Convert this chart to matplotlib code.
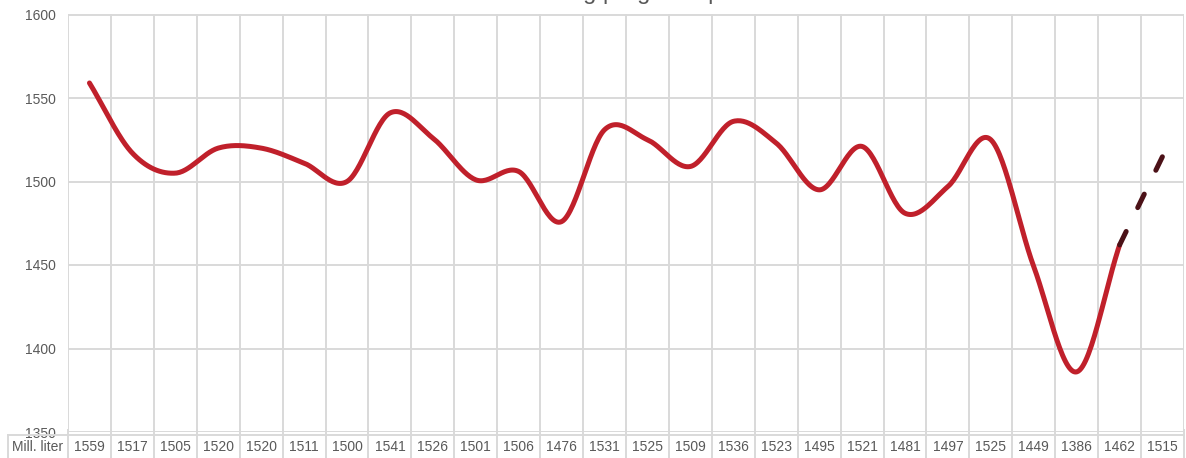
import numpy as np
import matplotlib
matplotlib.use("Agg")
import matplotlib.pyplot as plt
from matplotlib.transforms import blended_transform_factory

# ---- data ----
title = "Forbruk og prognose per år"
row_label = "Mill. liter"
values = [1559, 1517, 1505, 1520, 1520, 1511, 1500, 1541, 1526, 1501, 1506,
          1476, 1531, 1525, 1509, 1536, 1523, 1495, 1521, 1481, 1497, 1525,
          1449, 1386, 1462, 1515]
n_actual = 25          # first 25 values are actual, last segment is forecast
y_ticks = [1350, 1400, 1450, 1500, 1550, 1600]

plt.rcParams['font.family'] = ['Liberation Sans', 'DejaVu Sans']

W, H = 1186, 458
fig = plt.figure(figsize=(W / 100, H / 100), dpi=100)
left_px, right_px, top_px, bot_px = 68, 1184, 14.5, 432
ax = fig.add_axes([left_px / W, (H - bot_px) / H,
                   (right_px - left_px) / W, (bot_px - top_px) / H])

n = len(values)
x = np.arange(n)
ax.set_xlim(-0.5, n - 0.5)
ax.set_ylim(y_ticks[0], y_ticks[-1])

grid_c = '#D9D9D9'
text_c = '#595959'
ax.set_yticks(y_ticks)
ax.set_yticklabels([str(t) for t in y_ticks], color=text_c, fontsize=10)
ax.tick_params(axis='y', length=0, pad=9)
ax.set_xticks([])
for s in ax.spines.values():
    s.set_visible(False)
for t in y_ticks:
    ax.axhline(t, color=grid_c, lw=1.4, zorder=0)
for b in np.arange(n + 1) - 0.5:
    ax.axvline(b, color=grid_c, lw=1.4, zorder=0)


def catmull_rom(xs, ys, steps=30):
    xs = np.asarray(xs, float)
    ys = np.asarray(ys, float)
    px = np.concatenate([[2 * xs[0] - xs[1]], xs, [2 * xs[-1] - xs[-2]]])
    py = np.concatenate([[2 * ys[0] - ys[1]], ys, [2 * ys[-1] - ys[-2]]])
    out_x, out_y = [], []
    for i in range(1, len(px) - 2):
        t = np.linspace(0, 1, steps, endpoint=(i == len(px) - 3))
        p0, p1, p2, p3 = py[i - 1], py[i], py[i + 1], py[i + 2]
        q0, q1, q2, q3 = px[i - 1], px[i], px[i + 1], px[i + 2]
        f = lambda a0, a1, a2, a3: 0.5 * ((2 * a1) + (-a0 + a2) * t +
                                          (2 * a0 - 5 * a1 + 4 * a2 - a3) * t ** 2 +
                                          (-a0 + 3 * a1 - 3 * a2 + a3) * t ** 3)
        out_x.append(f(q0, q1, q2, q3))
        out_y.append(f(p0, p1, p2, p3))
    return np.concatenate(out_x), np.concatenate(out_y)


sx, sy = catmull_rom(x[:n_actual], values[:n_actual])
ax.plot(sx, sy, color='#C0202B', lw=3.6, solid_capstyle='round',
        solid_joinstyle='round', zorder=3)
fl, = ax.plot(x[n_actual - 1:], values[n_actual - 1:], color='#4B1117', lw=3.6,
              dash_capstyle='round', zorder=4)
fl.set_dashes((3.0, 5.3))

# ---- data table below the axis ----
trans = blended_transform_factory(ax.transData, fig.transFigure)
y_top = (H - 435) / H
y_text = (H - 447) / H
for i, v in enumerate(values):
    ax.text(i, y_text, str(v), transform=trans, ha='center', va='center',
            fontsize=10, color=text_c, clip_on=False)
fig.text(38 / W, y_text, row_label, ha='center', va='center',
         fontsize=10, color=text_c)
fig.add_artist(plt.Line2D([8 / W, right_px / W], [y_top, y_top],
                          transform=fig.transFigure, color=grid_c, lw=1.4))
fig.add_artist(plt.Line2D([8 / W, 8 / W], [0, y_top],
                          transform=fig.transFigure, color=grid_c, lw=1.4))
for b in np.arange(n + 1) - 0.5:
    ax.add_artist(plt.Line2D([b, b], [0, y_top + 0.01], transform=trans,
                             color=grid_c, lw=1.4, clip_on=False))

# title (cut off at top edge, as in the reference)
fig.text(626 / W, 1 + 1.5 / H, title, ha='center', va='baseline',
         fontsize=17, color=text_c)

fig.savefig('out.png', dpi=100)
